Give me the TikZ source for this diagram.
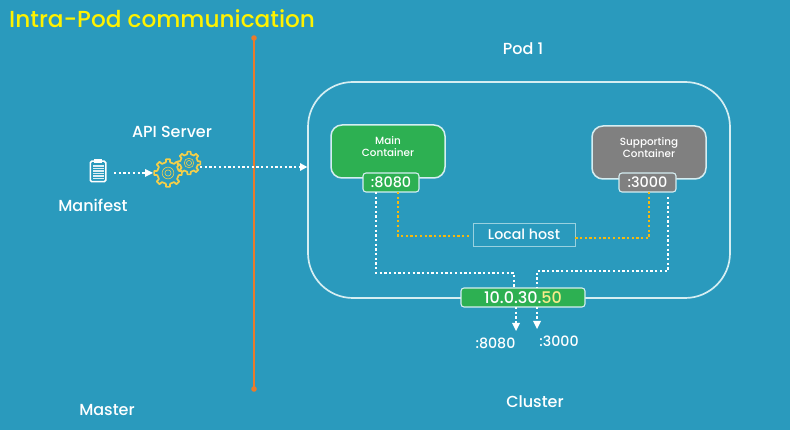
\documentclass[tikz,border=0pt]{standalone}
\usepackage{fontspec}
\setmainfont{Poppins Medium}
\usetikzlibrary{calc}
\definecolor{bgc}{HTML}{2A9ABD}
\definecolor{greenc}{HTML}{2DB052}
\definecolor{grayc}{HTML}{808080}
\definecolor{orangec}{HTML}{E97A2B}
\definecolor{dotyellow}{HTML}{F5B90F}
\definecolor{gearc}{HTML}{F4CF4A}
\definecolor{titlec}{HTML}{FFF200}
\definecolor{ipyellow}{HTML}{F8EC8A}
\definecolor{edgec}{HTML}{D5EEF2}
\newcommand{\gearicon}[3]{%
  \draw[gearline] ($(#1,#2)+(-11.25:#3*0.78)$)
    \foreach \i in {0,45,...,315}{
      -- ($(#1,#2)+(\i-11.25:#3*0.78)$)
      -- ($(#1,#2)+(\i-8:#3)$)
      -- ($(#1,#2)+(\i+8:#3)$)
      -- ($(#1,#2)+(\i+11.25:#3*0.78)$)
    } -- cycle;
  \draw[gearthin] (#1,#2) circle[radius=#3*0.42];
  \draw[gearthin] (#1,#2) circle[radius=#3*0.22];
}
\tikzset{
  x=1pt,y=-1pt,
  lbl/.style={text=white,font=\fontsize{16}{18}\selectfont,inner sep=0pt},
  podbox/.style={draw=edgec,line width=1.7pt,rounded corners=45pt},
  contbox/.style={draw=edgec,line width=1.5pt,rounded corners=11pt,text=white,align=center,inner sep=0pt,
    font=\fontsize{10.4}{12.5}\selectfont},
  portbox/.style={draw=edgec,line width=1.1pt,rounded corners=3pt,text=white,inner sep=0pt,
    font=\fontsize{14.4}{16}\selectfont},
  whitedots/.style={draw=white,line width=2.6pt,dash pattern=on 2.3pt off 2.4pt},
  yellowdots/.style={draw=dotyellow,line width=2.6pt,dash pattern=on 2.3pt off 2.4pt},
  gearline/.style={draw=gearc,line width=1.7pt,line join=round},
  gearthin/.style={draw=gearc,line width=0.6pt},
}
\begin{document}
\begin{tikzpicture}
\fill[bgc] (0,0) rectangle (790,430);
\useasboundingbox (0,0) rectangle (790,430);

\node[anchor=west,text=titlec,inner sep=0pt,font=\fontsize{23.2}{28}\selectfont] (title) at (9,19) {Intra-Pod communication};

% orange divider
\coordinate (divtop) at (254,38);
\coordinate (divbot) at (254,389);
\draw[orangec,line width=2pt] (divtop) -- (divbot);
\fill[orangec] (divtop) circle[radius=2.8];
\fill[orangec] (divbot) circle[radius=2.8];

% labels
\node[lbl] (podlbl) at (523,49) {Pod 1};
\node[lbl] (apilbl) at (172,132) {API Server};
\node[lbl] (manlbl) at (93,205) {Manifest};
\node[lbl] (masterlbl) at (107,410) {Master};
\node[lbl] (clusterlbl) at (535,402) {Cluster};
\node[lbl,font=\fontsize{14.2}{16}\selectfont] (p8080) at (495.5,343) {:8080};
\node[lbl,font=\fontsize{14.2}{16}\selectfont] (p3000) at (559,341) {:3000};

% pod
\node[podbox,minimum width=422pt,minimum height=216pt] (pod) at (519,190) {};

% clipboard
\node[draw=white,line width=1.5pt,rounded corners=1.5pt,minimum width=15.5pt,minimum height=20.5pt,inner sep=0pt] (clip) at (98,171.5) {};
\fill[white] (94,159.5) rectangle (102,163.5);
\foreach \yy in {165.5,168,170.5,173,175.5,178}{\fill[white,opacity=.85] (92.5,\yy) rectangle (103.5,\yy+1.4);}

% gears
\gearicon{168}{173}{14}
\gearicon{189}{163}{11.5}
\coordinate (gearin) at (153,173);
\coordinate (gearout) at (200,167);
\coordinate (clipout) at (114,173);
\draw[whitedots] (clipout) -- (146,173);
\fill[white] (gearin) -- (145,169) -- (145,177) -- cycle;
\draw[whitedots] (gearout) -- ($(pod.west|-gearout)+(-7,0)$);
\fill[white] (pod.west|-gearout) -- (300,163) -- (300,171) -- cycle;

% main container
\node[contbox,fill=greenc,minimum width=114pt,minimum height=53pt,text depth=10pt] (main) at (388,151.5) {Main\\Container};
\node[portbox,fill=greenc,minimum width=56pt,minimum height=19pt] (port1) at (391,182.5) {:8080};

% supporting
\node[contbox,fill=grayc,minimum width=114pt,minimum height=53pt,text depth=10pt] (supp) at (649,152.5) {Supporting\\Container};
\node[portbox,fill=grayc,minimum width=57pt,minimum height=19pt] (port2) at (647.5,182.5) {:3000};

% local host
\node[draw=edgec!65!bgc,line width=.9pt,text=white,inner sep=0pt,minimum width=102pt,minimum height=23pt,font=\fontsize{14.2}{16}\selectfont] (local) at (524,234.5) {Local host};

% yellow links
\coordinate (yl) at (398,236);
\coordinate (yr) at (649,238);
\draw[yellowdots] (398,192) -- (yl) -- ($(local.west|-yl)+(-3,0)$);
\draw[yellowdots] (649,192) -- (yr) -- (local.east|-yr);

% ip
\node[draw=edgec,line width=1.1pt,fill=greenc,rounded corners=3pt,text=white,inner sep=0pt,minimum width=124pt,minimum height=19pt,font=\fontsize{16}{17}\selectfont] (ip) at (523,297.5) {10.0.30.\textcolor{ipyellow}{50}};

% white links
\draw[whitedots] (376,192) -- (376,273) -- (514,273) -- (514,288);
\draw[whitedots] (668,197) -- (668,271) -- (537,271) -- (537,288);
\draw[whitedots] (516,307) -- (516,323);
\draw[whitedots] (537,307) -- (537,321);
\fill[white] (516,331) -- (512,323) -- (520,323) -- cycle;
\fill[white] (537,329) -- (533,321) -- (541,321) -- cycle;
\end{tikzpicture}
\end{document}
